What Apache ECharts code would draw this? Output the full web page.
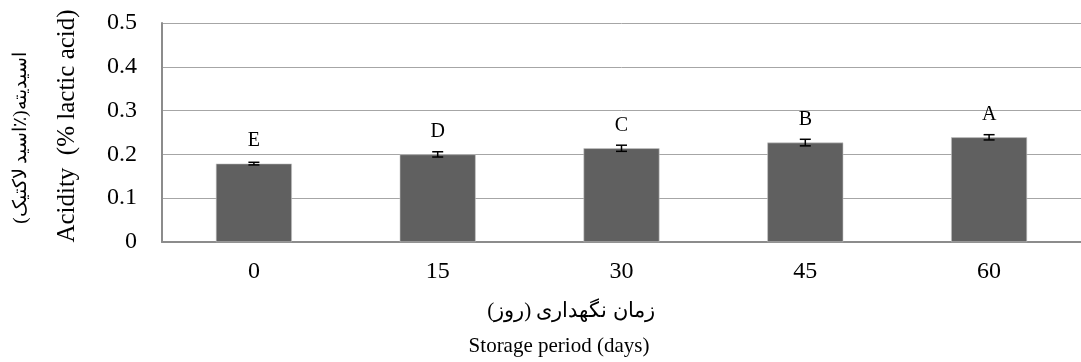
<!DOCTYPE html>
<html>
<head>
<meta charset="utf-8">
<script src="https://cdn.jsdelivr.net/npm/echarts@6/dist/echarts.min.js"></script>
<style>html,body{margin:0;padding:0;background:#fff;}#c{width:1081px;height:362px;}</style>
</head>
<body>
<div id="c"></div>
<script>
var categories = ['0', '15', '30', '45', '60'];
var values = [0.179, 0.200, 0.214, 0.227, 0.239];
var errors = [0.003, 0.006, 0.007, 0.0075, 0.006];
var letters = ['E', 'D', 'C', 'B', 'A'];
var yTicks = [0, 0.1, 0.2, 0.3, 0.4, 0.5];

var serif = "'Liberation Serif', 'Times New Roman', 'DejaVu Serif', serif";
var chart = echarts.init(document.getElementById('c'));
chart.setOption({
  animation: false,
  backgroundColor: '#fff',
  grid: { left: 162, right: 0, top: 23, bottom: 120, containLabel: false },
  xAxis: {
    type: 'category',
    data: categories,
    axisLine: { lineStyle: { color: '#8c8c8c', width: 2 } },
    axisTick: { show: false },
    axisLabel: { color: '#000', fontFamily: serif, fontSize: 24, margin: 18 }
  },
  yAxis: {
    type: 'value',
    min: 0, max: 0.5, interval: 0.1,
    axisLine: { show: true, lineStyle: { color: '#8c8c8c', width: 2 } },
    axisTick: { show: false },
    splitLine: { lineStyle: { color: '#a6a6a6', width: 1 } },
    axisLabel: { color: '#000', fontFamily: serif, fontSize: 24, margin: 25,
      formatter: function (v) { return String(+(+v).toFixed(1)); } }
  },
  series: [
    {
      type: 'bar',
      data: values,
      barWidth: 76,
      itemStyle: { color: '#606060', borderColor: '#c8c8c8', borderWidth: 0.6 },
      label: {
        show: true, position: 'top', distance: 13,
        color: '#000', fontFamily: serif, fontSize: 20,
        formatter: function (p) { return letters[p.dataIndex]; }
      },
      z: 2
    },
    {
      type: 'custom',
      data: values.map(function (v, i) { return [i, v - errors[i], v + errors[i]]; }),
      renderItem: function (params, api) {
        var lo = api.coord([api.value(0), api.value(1)]);
        var hi = api.coord([api.value(0), api.value(2)]);
        var hw = 5.5;
        var st = { stroke: '#000', lineWidth: 1.5 };
        return { type: 'group', children: [
          { type: 'line', shape: { x1: lo[0], y1: lo[1], x2: hi[0], y2: hi[1] }, style: st },
          { type: 'line', shape: { x1: lo[0] - hw, y1: lo[1], x2: lo[0] + hw, y2: lo[1] }, style: st },
          { type: 'line', shape: { x1: hi[0] - hw, y1: hi[1], x2: hi[0] + hw, y2: hi[1] }, style: st }
        ] };
      },
      z: 5
    }
  ],
  graphic: [
    { type: 'text', rotation: Math.PI / 2, position: [67, 126],
      style: { text: 'Acidity  (% lactic acid)', font: '25px ' + serif, fill: '#000', textAlign: 'center', textVerticalAlign: 'middle' } },
    { type: 'text', rotation: Math.PI / 2, position: [21, 138],
      style: { text: 'اسیدیته(٪اسید لاکتیک)', font: '19px ' + serif, fill: '#000', textAlign: 'center', textVerticalAlign: 'middle' } },
    { type: 'text', position: [571, 311],
      style: { text: 'زمان نگهداری (روز)', font: '21px ' + serif, fill: '#000', textAlign: 'center', textVerticalAlign: 'middle' } },
    { type: 'text', position: [559, 346],
      style: { text: 'Storage period (days)', font: '21px ' + serif, fill: '#000', textAlign: 'center', textVerticalAlign: 'middle' } }
  ]
});
</script>
</body>
</html>
